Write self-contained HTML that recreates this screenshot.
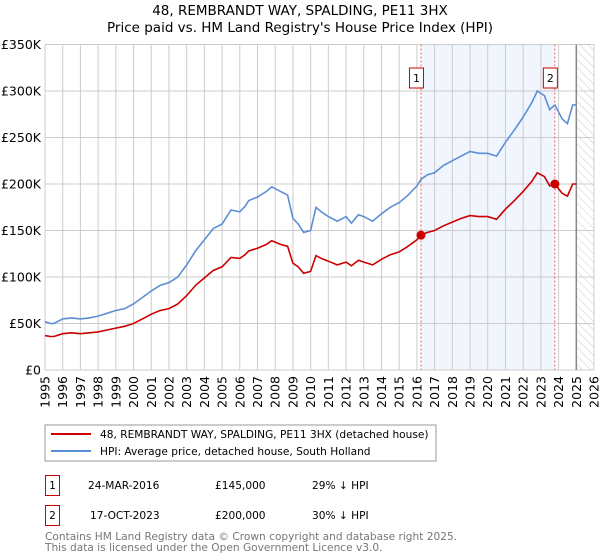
<!DOCTYPE html>
<html><head><meta charset="utf-8">
<style>
body{margin:0;background:#fff;font-family:"DejaVu Sans","Liberation Sans",sans-serif;}
svg{display:block}
text{font-family:"DejaVu Sans","Liberation Sans",sans-serif;}
</style></head>
<body>
<svg id="chart" width="600" height="560">
  <text x="300" y="15" text-anchor="middle" font-size="13.5">48, REMBRANDT WAY, SPALDING, PE11 3HX</text>
  <text x="300" y="32" text-anchor="middle" font-size="13.5">Price paid vs. HM Land Registry's House Price Index (HPI)</text>
  <defs>
    <pattern id="hatch" width="6" height="6" patternUnits="userSpaceOnUse" patternTransform="rotate(-45)">
      <line x1="0" y1="0" x2="0" y2="6" stroke="#ccc" stroke-width="1"/>
    </pattern>
  </defs>
  <g id="grid"></g>
  <g id="marks"></g>
  <g id="axes"></g>
  <rect x="45" y="425" width="391" height="36" fill="#fff" stroke="#999"/>
  <line x1="51" y1="434" x2="91" y2="434" stroke="#cc0000" stroke-width="2"/>
  <text x="100" y="438" font-size="10.6">48, REMBRANDT WAY, SPALDING, PE11 3HX (detached house)</text>
  <line x1="51" y1="451" x2="91" y2="451" stroke="#5b8fd4" stroke-width="2"/>
  <text x="100" y="455" font-size="10.6">HPI: Average price, detached house, South Holland</text>
  <rect x="45.5" y="475.5" width="14" height="20" fill="#fff" stroke="#cc0000"/>
  <text x="52.5" y="489" font-size="10.6" text-anchor="middle">1</text>
  <text x="88" y="489" font-size="10.6">24-MAR-2016</text>
  <text x="215" y="489" font-size="10.6">£145,000</text>
  <text x="312" y="489" font-size="10.6">29% ↓ HPI</text>
  <rect x="45.5" y="505.5" width="14" height="20" fill="#fff" stroke="#cc0000"/>
  <text x="52.5" y="519" font-size="10.6" text-anchor="middle">2</text>
  <text x="90" y="519" font-size="10.6">17-OCT-2023</text>
  <text x="215" y="519" font-size="10.6">£200,000</text>
  <text x="312" y="519" font-size="10.6">30% ↓ HPI</text>
  <text x="45" y="540" font-size="10.6" fill="#777">Contains HM Land Registry data © Crown copyright and database right 2025.</text>
  <text x="45" y="551" font-size="10.6" fill="#777">This data is licensed under the Open Government Licence v3.0.</text>
</svg>
<script>
const years = [1995,1995.3,1995.5,1996,1996.5,1997,1997.5,1998,1998.5,1999,1999.5,2000,2000.5,2001,2001.5,2002,2002.5,2003,2003.5,2004,2004.5,2005,2005.5,2006,2006.3,2006.5,2007,2007.5,2007.8,2008.3,2008.7,2009.0,2009.3,2009.6,2010.0,2010.3,2010.6,2011,2011.5,2012,2012.3,2012.7,2013,2013.5,2014,2014.5,2015,2015.5,2016,2016.23,2016.6,2017,2017.5,2018,2018.5,2019,2019.5,2020,2020.5,2021,2021.5,2022,2022.5,2022.8,2023.2,2023.5,2023.79,2024.2,2024.5,2024.8,2025];
const hpi = [52,50,50,55,56,55,56,58,61,64,66,71,78,85,91,94,100,113,128,140,152,157,172,170,176,182,186,192,197,192,188,163,157,148,150,175,170,165,160,165,158,167,165,160,168,175,180,188,198,205,210,212,220,225,230,235,233,233,230,245,258,272,288,300,295,280,285,270,265,285,285];
const price = [37,36,36,39,40,39,40,41,43,45,47,50,55,60,64,66,71,80,91,99,107,111,121,120,124,128,131,135,139,135,133,115,111,104,106,123,120,117,113,116,112,118,116,113,119,124,127,133,140,145,148,150,155,159,163,166,165,165,162,173,182,192,203,212,208,198,200,190,187,200,200];
const saleYears = [2016.23, 2023.79];
const salePrices = [145, 200];
const yTicks = [0,50,100,150,200,250,300,350];
const yTickLabels = ['£0','£50K','£100K','£150K','£200K','£250K','£300K','£350K'];
const NS='http://www.w3.org/2000/svg';
const X0=45,X1=594,Y0=370,Y1=44.5;
const xs=y=>X0+(y-1995)/(2026-1995)*(X1-X0);
const ys=v=>Y0-v/350*(Y0-Y1);
function mk(tag,attrs,parent){const e=document.createElementNS(NS,tag);for(const k in attrs)e.setAttribute(k,attrs[k]);document.getElementById(parent).appendChild(e);return e;}
let r=mk('rect',{x:xs(saleYears[0]),y:Y1,width:xs(saleYears[1])-xs(saleYears[0]),height:Y0-Y1,fill:'#eef3fc',opacity:0.8},'grid');


let h=mk('rect',{x:xs(2025),y:Y1,width:X1-xs(2025),height:Y0-Y1,fill:'url(#hatch)'},'grid');


for(let y=1995;y<=2026;y++){
  let l=mk('line',{x1:xs(y),x2:xs(y),y1:Y1,y2:Y0,stroke:'#ccc','stroke-width':1},'grid');
  
  
  let t=mk('text',{x:0,y:0,'font-size':12.5,'text-anchor':'end',transform:`translate(${xs(y)+4.5},${Y0+6}) rotate(-90)`},'axes');
  t.textContent=y;
  
  
}
yTicks.forEach((v,i)=>{
  let l=mk('line',{x1:X0,x2:X1,y1:ys(v),y2:ys(v),stroke:'#ccc','stroke-width':1},'grid');
  
  
  let t=mk('text',{x:X0-4,y:ys(v)+4.5,'font-size':12.5,'text-anchor':'end'},'axes');
  t.textContent=yTickLabels[i];
  
  
});
let dl=mk('line',{x1:xs(2025),x2:xs(2025),y1:Y1,y2:Y0,stroke:'#888','stroke-width':1.5},'grid');


saleYears.forEach((sy,i)=>{
  let l=mk('line',{x1:xs(sy),x2:xs(sy),y1:Y1,y2:Y0,stroke:'#f06060','stroke-width':1,'stroke-dasharray':'2,2'},'grid');
  
  
  let b=mk('rect',{x:xs(sy)-11.5,y:68,width:14,height:20,fill:'#fff',stroke:'#cc0000'},'axes');
  
  
  let t=mk('text',{x:xs(sy)-4.5,y:82,'font-size':11,'text-anchor':'middle'},'axes');
  t.textContent=String(i+1);
  
  
});
const path=arr=>arr.map((v,i)=>(i?'L':'M')+xs(years[i]).toFixed(1)+','+ys(v).toFixed(1)).join('');
let hp=mk('path',{d:path(hpi),fill:'none',stroke:'#5b8fd4','stroke-width':1.6},'marks');


let pp=mk('path',{d:path(price),fill:'none',stroke:'#cc0000','stroke-width':1.6},'marks');


saleYears.forEach((sy,i)=>{
  let c=mk('circle',{cx:xs(sy),cy:ys(salePrices[i]),r:4.5,fill:'#cc0000'},'marks');
  
  
});
</script>
</body></html>
